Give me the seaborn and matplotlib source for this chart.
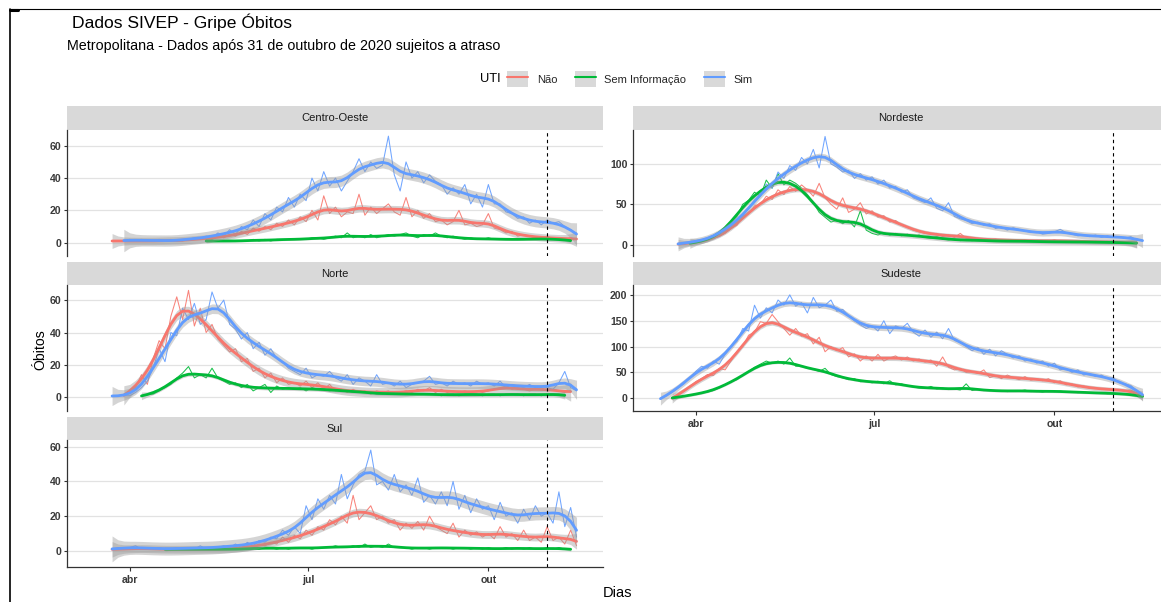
import numpy as np
import pandas as pd
import matplotlib
matplotlib.use("Agg")
import matplotlib.pyplot as plt
import seaborn as sns
from matplotlib.lines import Line2D
from matplotlib.patches import Patch
from matplotlib.legend_handler import HandlerTuple
from matplotlib import font_manager as fm

# ---------------- data (one value every 3 days) ----------------
categories = ["Não", "Sem Informação", "Sim"]
regions = ["Centro-Oeste", "Nordeste", "Norte", "Sudeste", "Sul"]
tick_dates = ["2020-04-01", "2020-07-01", "2020-10-01"]
tick_labels = ["abr", "jul", "out"]
CUTOFF = "2020-10-31"
STEP = "3D"

co_nao_start = "2020-03-23"
co_nao = [1,1,1,1,1,1,1,1,1,1, 2,1,1,2,2,2,3,2,4,3, 5,4,7,5,9,7,10,8,12,10,
          14,11,16,13,20,14,29,18,22,16, 19,18,30,17,22,18,21,24,19,17,
          28,16,20,15,18,13,14,11,13,20, 11,12,10,11,18,9,8,6,7,4, 5,4,3,3,4,2,3,2,3,2]
co_sem_start = "2020-05-10"
co_sem = [1,1,1,1,1,1,1,1,2,1, 2,1,2,2,2,2,2,2,3,3, 2,3,4,3,6,3,4,3,5,3,
          4,5,4,5,6,4,3,5,4,6, 4,3,4,3,2,3,2,2,3,2, 2,2,2,2,2,2,2,3,2,2, 2,2,1]
co_sim_start = "2020-03-29"
co_sim = [1,2,1,2,1,1,2,1,1,1, 2,2,3,2,4,3,6,4,8,5, 10,8,14,10,18,14,22,19,28,22,
          30,26,40,32,44,35,40,32,38,44, 52,44,50,46,48,66,42,32,50,40,
          44,37,42,38,36,30,34,30,36,24, 30,22,36,24,24,19,18,15,16,12, 14,11,14,12,13,10,8,5]

ne_nao_start = "2020-03-23"
ne_nao = [1,1,2,3,4,5,8,10,14,20, 24,35,38,48,50,60,56,68,62,72, 66,74,68,60,76,58,50,44,58,40,
          44,52,38,42,34,36,28,30,24,22, 18,16,14,13,14,10,12,9,14,8, 7,8,6,6,7,5,6,5,5,6,
          4,5,5,4,6,4,5,4,5,4, 3,4,3,4,3,3,3,3,2]
ne_sem_start = "2020-03-29"
ne_sem = [2,3,4,6,8,12,18,28,35,50, 55,65,60,80,70,88,74,80,76,70, 62,52,40,34,28,30,26,30,22,42,
          18,14,12,15,12,14,11,13,10,12, 9,8,10,7,6,7,5,6,5,6, 5,5,4,5,4,4,5,4,4,4,
          4,3,4,3,4,3,3,4,3,3, 3,3,3,2,3,2,2]
ne_sim_start = "2020-03-23"
ne_sim = [1,2,3,4,5,6,10,13,20,22, 30,35,45,55,60,75,70,90,82,98, 92,108,100,118,95,134,100,96,90,92,
          82,88,80,84,75,80,70,72,65,68, 58,55,52,58,45,42,52,35,32,30, 26,28,24,26,20,22,18,21,19,17,
          15,16,13,14,16,19,15,13,11,12, 10,12,9,11,9,10,8,10,6,5]

no_nao_start = "2020-03-29"
no_nao = [2,3,6,14,8,24,35,30,50,62, 48,66,44,55,40,45,36,32,28,30, 22,24,16,18,12,15,9,12,8,9,
          7,10,6,9,5,8,4,5,3,5, 3,4,2,4,3,4,2,3,4,3, 5,4,6,3,5,3,4,3,4,3,
          4,3,4,5,6,7,5,6,5,4, 5,6,4,5,4,3,4]
no_sem_start = "2020-04-07"
no_sem = [1,2,2,4,6,8,12,15,19,12, 14,12,18,12,10,8,9,6,8,4, 6,8,3,7,5,6,5,6,4,6,
          5,5,4,5,4,4,3,4,3,3, 2,2,3,2,2,2,2,2,2,2, 2,1,2,2,1,2,2,2,1,2,
          2,1,2,2,2,1,2,2,1,2, 2,2,1]
no_sim_start = "2020-03-23"
no_sim = [1,1,1,1,3,6,10,18,30,22, 40,38,55,48,58,45,48,65,55,60, 45,42,36,40,30,34,26,30,24,22,
          18,16,14,18,12,14,13,16,12,10, 14,8,12,10,7,14,8,9,7,10, 6,8,9,10,13,8,9,7,10,8,
          9,7,10,8,9,7,10,6,8,7, 6,8,6,7,6,5,9,16,6,4]

se_nao_start = "2020-03-20"
se_nao = [1,6,14,22,32,38,46,44,58,55, 72,90,100,122,128,148,145,162,148,135,
          122,135,120,125,105,118,90,100,92,98, 80,86,72,82,72,85,72,78,82,74,
          80,72,76,70,74,62,80,60,55,58, 50,52,48,55,40,44,38,45,40,36,
          42,35,38,34,38,30,34,26,28,22, 24,19,20,17,18,16,17,15,16,10, 4]
se_sem_start = "2020-03-20"
se_sem = [1,2,4,6,8,10,12,15,20,26, 32,36,44,52,60,66,72,68,72,66,
          78,62,62,58,56,52,58,46,42,40, 36,38,32,33,30,33,28,34,26,28,
          24,22,20,19,23,18,20,17,18,16, 28,15,17,15,16,14,15,13,15,14,
          16,13,14,12,15,13,14,12,13,11, 12,11,10,11,9,10,9,8,8,6, 3]
se_sim_start = "2020-03-14"
se_sim = [0,5,12,20,28,40,52,62,58,72, 66,85,100,110,135,130,180,155,175,165,
          190,180,200,178,185,165,195,175,180,190, 168,172,160,150,142,135,140,130,150,125,
          140,135,145,128,120,132,118,128,115,135, 112,108,100,92,98,85,95,82,92,85,
          78,82,72,76,68,72,62,68,55,58, 50,55,45,48,42,45,38,40,30,28, 25,15,6]

su_nao_start = "2020-03-23"
su_nao = [1,1,1,1,2,1,2,1,1,1, 1,1,1,1,1,1,1,1,1,1, 1,2,1,3,2,4,3,5,4,8,
          5,9,7,12,9,14,12,18,15,20, 16,32,18,22,26,18,20,16,18,12, 16,13,17,12,20,14,12,10,16,8,
          12,9,11,8,10,7,14,8,10,6, 12,6,8,5,14,6,8,4,12,3]
su_sem_start = "2020-04-19"
su_sem = [1,1,1,1,1,1,1,1,1,1,1,1,1,1,1, 2,1,2,2,1,2,1,2,2,2, 1,2,2,2,3,2,2,3,2,4,
          2,3,2,4,2,2,2,1,2,2, 1,2,2,2,1,2, 2,1,2,1,2,1,1,2,1,2,1,2,1,1,2,1,2,1,1]
su_sim_start = "2020-03-23"
su_sim = [1,2,1,2,3,1,2,1,2,1, 1,2,1,2,1,3,1,2,2,3, 2,4,2,5,3,6,5,8,7,12,
          9,14,10,26,18,30,24,32,27,44, 30,38,44,46,58,38,40,35,44,34, 38,32,42,28,32,27,34,26,40,24,
          32,22,30,24,26,18,28,20,22,16, 24,18,26,20,22,16,34,14,25,8]

series = {
    "Centro-Oeste": [(co_nao_start, co_nao), (co_sem_start, co_sem), (co_sim_start, co_sim)],
    "Nordeste": [(ne_nao_start, ne_nao), (ne_sem_start, ne_sem), (ne_sim_start, ne_sim)],
    "Norte": [(no_nao_start, no_nao), (no_sem_start, no_sem), (no_sim_start, no_sim)],
    "Sudeste": [(se_nao_start, se_nao), (se_sem_start, se_sem), (se_sim_start, se_sim)],
    "Sul": [(su_nao_start, su_nao), (su_sem_start, su_sem), (su_sim_start, su_sim)],
}

rows = []
for reg in regions:
    for cat, (start, vals) in zip(categories, series[reg]):
        dates = pd.date_range(start, periods=len(vals), freq=STEP)
        for d, v in zip(dates, vals):
            rows.append((reg, cat, d, v))
df = pd.DataFrame(rows, columns=["Regiao", "UTI", "Data", "Obitos"])


def local_linear(vals, sigma=1.7, z=2.1):
    """loess-like local linear fit with a global residual scale."""
    v = np.asarray(vals, float)
    n = len(v)
    idx = np.arange(n)
    m = np.zeros(n)
    lev = np.zeros(n)
    for k in range(n):
        x = idx - k
        w = np.exp(-0.5 * (x / sigma) ** 2)
        w[np.abs(x) > 3 * sigma] = 0
        S0, S1, S2 = w.sum(), (w * x).sum(), (w * x * x).sum()
        det = S0 * S2 - S1 ** 2
        l = w * (S2 - S1 * x) / det
        m[k] = (l * v).sum()
        lev[k] = (l ** 2).sum()
    s = np.sqrt(np.mean((v - m) ** 2) + 0.03 * v.max())
    return m, z * s * np.sqrt(lev)


# ---------------- style ----------------
sns.set_theme(style="white")
names = {f.name for f in fm.fontManager.ttflist}
if "Liberation Sans Narrow" in names:
    FAM, K = "Liberation Sans Narrow", 1.0
else:
    FAM, K = "Liberation Sans", 0.84
plt.rcParams["font.family"] = [FAM, "DejaVu Sans"]

palette = {"Não": "#F8766D", "Sem Informação": "#00BA38", "Sim": "#619CFF"}
W, H = 1161, 602
fig = plt.figure(figsize=(W / 100, H / 100), dpi=100)
fig.patch.set_facecolor("white")


def fx(px):
    return px / W


def fy(py):
    return 1 - py / H


def rect(x0, y0, x1, y1):
    return [x0 / W, 1 - y1 / H, (x1 - x0) / W, (y1 - y0) / H]


layout = {
    "Centro-Oeste": dict(col=0, row=0, ylim=(-8.3, 69.8), yticks=[0, 20, 40, 60], xaxis=False),
    "Nordeste": dict(col=1, row=0, ylim=(-14, 142), yticks=[0, 50, 100], xaxis=False),
    "Norte": dict(col=0, row=1, ylim=(-8.4, 69.3), yticks=[0, 20, 40, 60], xaxis=False),
    "Sudeste": dict(col=1, row=1, ylim=(-24.5, 219), yticks=[0, 50, 100, 150, 200], xaxis=True),
    "Sul": dict(col=0, row=2, ylim=(-9.2, 63.8), yticks=[0, 20, 40, 60], xaxis=True),
}
col_x = [(67, 603), (633, 1169)]
row_y = [(106, 130, 256), (262, 285, 411), (417, 440, 567)]
xlim = (pd.Timestamp("2020-02-29"), pd.Timestamp("2020-11-28 12:00"))
tick_fs = 9 * K

for reg in regions:
    L = layout[reg]
    x0, x1 = col_x[L["col"]]
    ys, yp, ye = row_y[L["row"]]
    strip = fig.add_axes(rect(x0, ys, x1, yp))
    strip.set_facecolor("#D9D9D9")
    strip.set_xticks([])
    strip.set_yticks([])
    for sp in strip.spines.values():
        sp.set_visible(False)
    strip.text(0.5, 0.5, reg, transform=strip.transAxes, ha="center", va="center",
               fontsize=9.5 * K, color="#1A1A1A")

    ax = fig.add_axes(rect(x0, yp, x1, ye))
    ax.set_facecolor("white")
    sub = df[df["Regiao"] == reg]
    sns.lineplot(data=sub, x="Data", y="Obitos", hue="UTI", hue_order=categories,
                 palette=palette, estimator=None, linewidth=0.75, alpha=0.9, legend=False,
                 ax=ax, zorder=2)
    for i, cat in enumerate(categories):
        s = sub[sub["UTI"] == cat]
        m, hw = local_linear(s["Obitos"].values)
        ax.fill_between(s["Data"].values, m - hw, m + hw, color="#999999", alpha=0.42,
                        lw=0, zorder=3 + 2 * i)
        sns.lineplot(x=s["Data"].values, y=m, color=palette[cat], linewidth=2.0, ax=ax,
                     zorder=4 + 2 * i)
    ax.axvline(pd.Timestamp(CUTOFF), color="black", ls=(0, (3, 3)), lw=0.8, zorder=10)

    ax.set_xlim(*xlim)
    ax.set_ylim(*L["ylim"])
    ax.set_yticks(L["yticks"])
    ax.set_yticklabels([str(t) for t in L["yticks"]], fontweight="bold")
    ax.yaxis.grid(True, color="#E2E2E2", linewidth=0.9)
    ax.xaxis.grid(False)
    ax.set_axisbelow(True)
    ax.set_xlabel("")
    ax.set_ylabel("")
    for side in ["top", "right"]:
        ax.spines[side].set_visible(False)
    ax.spines["left"].set_color("#333333")
    ax.spines["left"].set_linewidth(0.9)
    ax.tick_params(axis="y", left=True, length=2, width=0.8, color="#333333",
                   labelsize=tick_fs, labelcolor="#3A3A3A", pad=2)
    if L["xaxis"]:
        ax.spines["bottom"].set_color("#333333")
        ax.spines["bottom"].set_linewidth(0.9)
        ax.set_xticks([pd.Timestamp(t) for t in tick_dates])
        ax.set_xticklabels(tick_labels, fontweight="bold")
        ax.tick_params(axis="x", bottom=True, length=3, width=0.8, color="#333333",
                       labelsize=tick_fs, labelcolor="#3A3A3A", pad=3)
    else:
        ax.spines["bottom"].set_visible(False)
        ax.set_xticks([])

# ---------------- titles, axis titles, legend ----------------
fig.text(fx(72), fy(22), "Dados SIVEP - Gripe Óbitos", fontsize=15 * K, ha="left", va="center",
         color="black")
fig.text(fx(67), fy(46), "Metropolitana - Dados após 31 de outubro de 2020 sujeitos a atraso",
         fontsize=12.2 * K, ha="left", va="center", color="black")
fig.text(fx(40), fy(350), "Óbitos", rotation=90, fontsize=12 * K, ha="center", va="center",
         color="black")
fig.text(fx(617), fy(593), "Dias", fontsize=12.5 * K, ha="center", va="center", color="black")
fig.text(fx(490), fy(79), "UTI", fontsize=11 * K, ha="center", va="center", color="black")

handles = [(Patch(facecolor="#D9D9D9", edgecolor="none"),
            Line2D([], [], color=palette[c], lw=1.5)) for c in categories]
fs_leg = 9.5 * K
fs_px = fs_leg * 100 / 72
fig.legend(handles, categories, handler_map={tuple: HandlerTuple(ndivide=1, pad=0)},
           loc="center left", bbox_to_anchor=(fx(507), fy(79)), ncol=3, frameon=False,
           fontsize=fs_leg, handlelength=21 / fs_px, handleheight=21 / fs_px,
           handletextpad=9 / fs_px, columnspacing=17 / fs_px, borderpad=0, borderaxespad=0)

# screenshot frame lines
fig.add_artist(Line2D([fx(10), fx(10)], [fy(9), fy(602)], color="black", lw=1.2,
                      transform=fig.transFigure))
fig.add_artist(Line2D([fx(10), fx(1161)], [fy(9), fy(9)], color="black", lw=0.8,
                      transform=fig.transFigure))
fig.add_artist(Line2D([fx(10), fx(18)], [fy(10), fy(10)], color="black", lw=2.2,
                      transform=fig.transFigure))

fig.savefig("out.png", dpi=100, facecolor="white")
